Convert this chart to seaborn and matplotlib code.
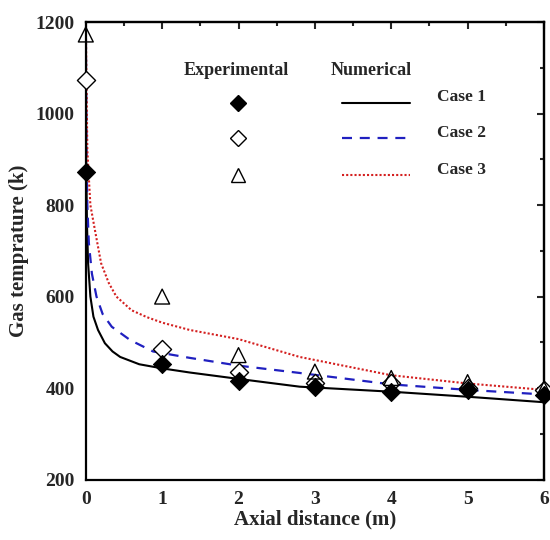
import matplotlib
matplotlib.use("Agg")
import matplotlib.pyplot as plt
from matplotlib.ticker import MultipleLocator
import seaborn as sns

# experimental points
exp_x = [0, 1, 2, 3, 4, 5, 6]
exp_case1 = [873, 452, 416, 403, 392, 396, 385]
exp_case2 = [1073, 485, 436, 410, 411, 400, 396]
exp_case3 = [1173, 600, 472, 436, 422, 413, 398]

# numerical curves
num1_x = [0, 0.005, 0.015, 0.03, 0.06, 0.1, 0.16, 0.25, 0.35, 0.45, 0.7, 1, 1.36, 2, 2.8, 4, 5, 6]
num1_y = [1200, 900, 760, 673, 600, 556, 527, 498, 480, 468, 452, 443, 434, 420, 403, 392, 381, 369]
num2_x = [0, 0.01, 0.02, 0.04, 0.08, 0.14, 0.22, 0.34, 0.58, 0.88, 1.36, 2, 2.8, 4, 5, 6]
num2_y = [1200, 900, 800, 717, 650, 600, 562, 534, 505, 480, 466, 449, 433, 408, 396, 386]
num3_x = [0, 0.02, 0.06, 0.12, 0.2, 0.3, 0.4, 0.6, 0.8, 1.0, 1.36, 2, 2.8, 4, 5, 6]
num3_y = [1200, 920, 800, 745, 673, 630, 600, 570, 555, 543, 527, 507, 468, 428, 410, 396]

cases = ["Case 1", "Case 2", "Case 3"]

sns.set_style("white")
plt.rcParams["font.family"] = ["Liberation Serif", "DejaVu Serif"]
plt.rcParams["font.weight"] = "bold"

fig = plt.figure(figsize=(5.5, 5.4), dpi=100)
ax = fig.add_axes([0.156, 0.112, 0.833, 0.847])

blue = "#2020c0"
red = "#d42020"
dash = (0, (4.5, 3.5))
dot = (0, (1, 1))

sns.lineplot(x=num1_x, y=num1_y, ax=ax, color="black", lw=1.5, sort=False)
sns.lineplot(x=num2_x, y=num2_y, ax=ax, color=blue, lw=1.6, sort=False, linestyle=dash)
sns.lineplot(x=num3_x, y=num3_y, ax=ax, color=red, lw=1.5, sort=False, linestyle=dot)

sns.scatterplot(x=exp_x, y=exp_case1, ax=ax, marker="D", s=85, color="black",
                edgecolor="black", zorder=5, clip_on=False)
sns.scatterplot(x=exp_x, y=exp_case2, ax=ax, marker="D", s=85, facecolor="white",
                edgecolor="black", linewidth=1.0, zorder=4, clip_on=False)
sns.scatterplot(x=exp_x, y=exp_case3, ax=ax, marker="^", s=115, facecolor="none",
                edgecolor="black", linewidth=1.0, zorder=4, clip_on=False)

ax.set_xlim(0, 6)
ax.set_ylim(200, 1200)
ax.xaxis.set_major_locator(MultipleLocator(1))
ax.xaxis.set_minor_locator(MultipleLocator(0.5))
ax.yaxis.set_major_locator(MultipleLocator(200))
ax.yaxis.set_minor_locator(MultipleLocator(100))

for s in ax.spines.values():
    s.set_linewidth(1.6)
    s.set_color("black")
ax.tick_params(which="both", direction="out", width=1.5, labelsize=14, pad=3,
               top=False, right=False)
ax.tick_params(which="major", length=5)
ax.tick_params(which="minor", length=3)
for lab in ax.get_xticklabels() + ax.get_yticklabels():
    lab.set_fontweight("bold")

# inward ticks on the top and right side
top = ax.secondary_xaxis("top")
top.xaxis.set_major_locator(MultipleLocator(1))
top.xaxis.set_minor_locator(MultipleLocator(0.5))
top.set_xticklabels([])
right = ax.secondary_yaxis("right")
right.yaxis.set_major_locator(MultipleLocator(200))
right.yaxis.set_minor_locator(MultipleLocator(100))
right.set_yticklabels([])
for sec in (top, right):
    sec.tick_params(which="both", direction="in", width=1.5)
    sec.tick_params(which="major", length=5)
    sec.tick_params(which="minor", length=3)
top.spines["top"].set_linewidth(1.6)
right.spines["right"].set_linewidth(1.6)

ax.set_xlabel("Axial distance (m)", fontsize=15, fontweight="bold", labelpad=1)
ax.set_ylabel("Gas temprature (k)", fontsize=15, fontweight="bold", labelpad=5)

# hand-made legend
tr = ax.transAxes
ax.text(0.3275, 0.895, "Experimental", transform=tr, fontsize=13, fontweight="bold",
        ha="center", va="center")
ax.text(0.622, 0.895, "Numerical", transform=tr, fontsize=13, fontweight="bold",
        ha="center", va="center")
rows = [0.823, 0.746, 0.666]
ax.plot([0.332], [rows[0]], transform=tr, marker="D", ms=8.5, color="black")
ax.plot([0.332], [rows[1]], transform=tr, marker="D", ms=8.5, mfc="white", mec="black", mew=1.0)
ax.plot([0.332], [rows[2]], transform=tr, marker="^", ms=10, mfc="none", mec="black", mew=1.0)
ax.plot([0.559, 0.707], [rows[0]] * 2, transform=tr, color="black", lw=1.5)
ax.plot([0.559, 0.707], [rows[1]] * 2, transform=tr, color=blue, lw=1.6, linestyle=dash)
ax.plot([0.559, 0.707], [rows[2]] * 2, transform=tr, color=red, lw=1.5, linestyle=dot)
for r, c in zip([0.837, 0.757, 0.677], cases):
    ax.text(0.819, r, c, transform=tr, fontsize=12.5, fontweight="bold",
            ha="center", va="center")

fig.savefig("out.png", dpi=100)
